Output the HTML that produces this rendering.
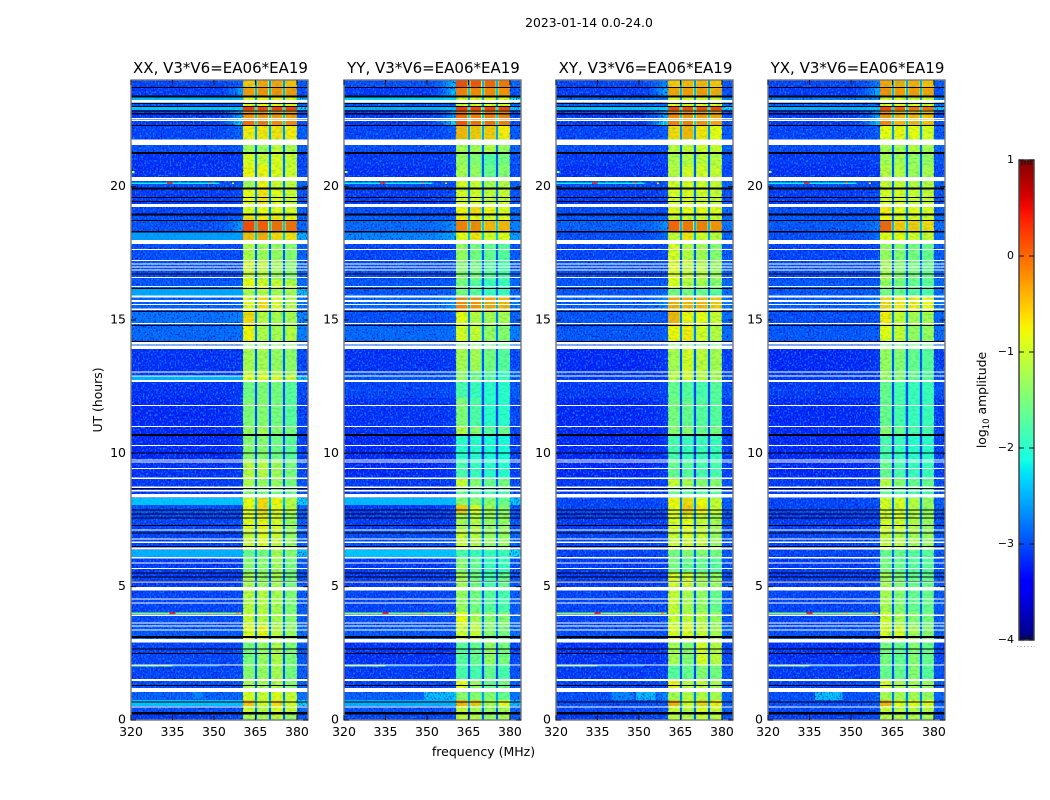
<!DOCTYPE html>
<html>
<head>
<meta charset="utf-8">
<title>2023-01-14 0.0-24.0</title>
<style>
html,body{margin:0;padding:0;background:#fff;}
svg{display:block;font-family:"DejaVu Sans","Liberation Sans",sans-serif;fill:#000;}
</style>
</head>
<body>
<svg id="figure" xmlns="http://www.w3.org/2000/svg" width="1050" height="800" viewBox="0 0 1050 800">
  <defs>
    <filter id="speckDark" x="0" y="0" width="1" height="1" color-interpolation-filters="sRGB">
      <feTurbulence type="fractalNoise" baseFrequency="0.62 0.5" numOctaves="1" seed="4"/>
      <feColorMatrix type="matrix" values="0 0 0 0 0  0 0 0 0 0.05  0 0 0 0 0.66  4 0 0 0 -2.1"/>
    </filter>
    <filter id="speckLight" x="0" y="0" width="1" height="1" color-interpolation-filters="sRGB">
      <feTurbulence type="fractalNoise" baseFrequency="0.6 0.48" numOctaves="1" seed="11"/>
      <feColorMatrix type="matrix" values="0 0 0 0 0.05  0 0 0 0 0.5  0 0 0 0 1  0 4.500 0 0 -2.3"/>
    </filter>
    <filter id="speckBand" x="0" y="0" width="1" height="1" color-interpolation-filters="sRGB">
      <feTurbulence type="fractalNoise" baseFrequency="0.25 0.5" numOctaves="1" seed="7"/>
      <feColorMatrix type="matrix" values="0 0 0 0 0.1  0 0 0 0 0.75  0 0 0 0 0.45  1 0 0 0 -0.42"/>
    </filter>
    <linearGradient id="jetGradient" x1="0" y1="1" x2="0" y2="0"></linearGradient>
  </defs>
  <rect x="0" y="0" width="1050" height="800" fill="#fff"/>
  <text x="589" y="27" font-size="12.4" text-anchor="middle">2023-01-14 0.0-24.0</text>
  <g id="panels"></g>
  <text x="0" y="0" font-size="12.4" text-anchor="middle" transform="translate(102,400) rotate(-90)">UT (hours)</text>
  <text x="483.500" y="756" font-size="12.500" text-anchor="middle">frequency (MHz)</text>
  <g id="colorbar"></g>
  <text font-size="12.4" text-anchor="middle" transform="translate(986,400) rotate(-90)">log<tspan font-size="8.500" dy="3">10</tspan><tspan dy="-3"> amplitude</tspan></text>
  <line x1="1017" y1="646.500" x2="1035" y2="646.500" stroke="#999" stroke-width="1" stroke-dasharray="1 2.500"/>
</svg>
<script>
// ---- chart data (hours, MHz, log10 amplitude) ----
const panelTitles = ["XX, V3*V6=EA06*EA19", "YY, V3*V6=EA06*EA19", "XY, V3*V6=EA06*EA19", "YX, V3*V6=EA06*EA19"];
const xTickLabels = [320, 335, 350, 365, 380];
const yTickLabels = [0, 5, 10, 15, 20];
const colorbarTicks = [1, 0, -1, -2, -3, -4];
const freqEdges = [320, 350, 360.5, 365.2, 370.2, 375.3, 380, 384];
const notchCenters = [365.2, 370.2, 375.3];
const rowEdgeHours = [24, 23.74, 23.40, 23.14, 22.99, 22.88, 22.58, 22.31, 21.79, 21.30, 20.81, 20.21, 19.91, 19.24, 18.90, 18.71, 18.34, 18.00, 17.25, 16.50, 16.16, 15.90, 15.30, 14.81, 14.21, 13.91, 13.09, 12.90, 12.68, 12.08, 11.03, 10.73, 9.75, 9.08, 8.74, 8.33, 8.06, 7.76, 7.13, 6.53, 6.38, 6.11, 5.55, 4.99, 4.05, 3.56, 3.00, 2.06, 1.50, 1.05, 0.75, 0.53, 0.19, 0];

// each row: [background, shoulder, subband1, subband2, subband3, subband4, gap]
const xxLevels = [
[-3.05,-2.9,-.6,-.4,-.4,-.55,-2.6],[-3.1,-2.5,-.35,-.3,-.3,-.35,-2.4],[-2.45,-2.3,-.95,-.85,-.85,-.9,-2.5],[-3,-2.9,-1,-.9,-.9,-.95,-2.6],
[-2.4,-1.9,.2,.15,.15,.15,-2.1],[-3.1,-2.4,-.3,-.3,-.35,-.35,-2.3],[-3.1,-2.1,-.1,-.15,-.25,-.25,-2.2],[-3.05,-2.8,-.8,-.75,-.75,-.8,-2.6],
[-3,-2.9,-1.35,-1.35,-1.15,-1.25,-2.8],[-3.15,-3.1,-1,-1.1,-1,-1.1,-2.8],[-3.15,-3.1,-.85,-.85,-.95,-1.05,-2.8],[-3,-3,-1.35,-.85,-1.05,-1.15,-2.7],
[-3.1,-3,-.9,-.75,-.95,-1.05,-2.7],[-3.05,-3,-1,-.9,-.95,-1,-2.7],[-3,-2.9,-.75,-.8,-.8,-.85,-2.6],[-3,-2.5,.1,0,-.1,-.1,-2.3],
[-2.6,-2.45,-.55,-.45,-.7,-.75,-2.3],[-3,-3,-1.25,-1.35,-1.4,-1.5,-2.9],[-3,-3,-1.05,-1.15,-1.35,-1.5,-2.9],[-2.95,-2.9,-.9,-1,-1.1,-1.2,-2.8],
[-2.55,-2.5,-1.3,-1.2,-1.3,-1.3,-2.6],[-2.9,-2.85,-.95,-.7,-1,-1.2,-2.6],[-2.8,-2.7,-.7,-1.2,-1.3,-1.3,-2.7],[-2.85,-2.8,-.85,-1.25,-1.3,-1.2,-2.8],
[-2.9,-2.9,-1.5,-1.4,-1.4,-1.5,-2.8],[-3.15,-3.1,-1.3,-1.3,-1.4,-1.45,-2.9],[-3.1,-3.1,-1.1,-1.1,-1.2,-1.3,-2.8],[-2.5,-2.5,-.95,-.95,-1,-1.1,-2.6],
[-3.15,-3.1,-1.65,-1.55,-1.6,-1.8,-3],[-3.2,-3.1,-1.55,-1.5,-1.6,-1.8,-3],[-3.2,-3.1,-1.4,-1.3,-1.5,-1.6,-3],[-3.2,-3.1,-1.5,-1.5,-1.65,-1.8,-3],
[-3.15,-3.1,-1.2,-1.2,-1.35,-1.6,-2.9],[-3.1,-3.05,-1.3,-1.4,-1.4,-1.6,-2.9],[-3.1,-3.05,-1.5,-1.6,-1.6,-1.7,-2.9],[-2.4,-2.35,-.9,-.7,-.85,-1.2,-2.4],
[-3,-3,-.9,-.7,-.9,-1.2,-2.6],[-3.05,-3,-.95,-.85,-1,-1.4,-2.8],[-3.05,-3,-1.1,-.95,-1.1,-1.4,-2.8],[-3,-3,-1.1,-1,-1.1,-1.4,-2.8],
[-2.5,-2.45,-1.7,-1.6,-1.3,-1.5,-2.6],[-3.1,-3.05,-1.5,-1.5,-1.35,-1.6,-2.9],[-3.1,-3.05,-1.3,-1.4,-1.3,-1.6,-2.9],[-3.05,-3,-1.2,-1.2,-1.3,-1.55,-2.9],
[-3,-3,-1.1,-1.2,-1.3,-1.5,-2.8],[-2.95,-2.95,-.95,-.85,-1.2,-1.4,-2.8],[-3.05,-3,-1.6,-1.4,-1.25,-1.55,-2.9],[-3.05,-3,-1.5,-1.4,-1.3,-1.6,-2.9],
[-3,-2.95,-1.3,-1.3,-1.2,-1.5,-2.8],[-2.9,-2.85,-1,-1.1,-.95,-1.1,-2.7],[-2.4,-2.4,-.6,-1,-.7,-1,-2.4],[-3,-3,-1.1,-1.2,-1,-1.1,-2.8],[-3.1,-3,-1.3,-1.3,-1.1,-1.4,-2.9]
];
const yyLevels = [
[-3,-2.3,.1,.05,-.05,-.15,-2.4],[-3.1,-2.3,-.2,-.25,-.25,-.3,-2.3],[-2.3,-2.2,-1,-.9,-.9,-.95,-2.4],[-3,-2.9,-1.1,-1.05,-1.05,-1.05,-2.6],
[-2.5,-1.9,.2,.15,.15,.15,-2.1],[-3.1,-2.5,-.1,-.2,-.2,-.2,-2.2],[-3.1,-2.1,.05,-.1,-.1,-.2,-2.2],[-3.05,-2.9,-.5,-.6,-.6,-.8,-2.5],
[-3,-3,-1.3,-1.3,-1.2,-1.4,-2.8],[-3.1,-3.05,-1.4,-1.5,-1.8,-1.6,-2.9],[-3.15,-3.1,-1.3,-1.4,-1.7,-1.5,-2.9],[-3,-3,-1,-1.1,-1.3,-1.2,-2.7],
[-3.1,-3,-1,-1,-1.15,-1.1,-2.8],[-3,-3,-.85,-.7,-.85,-1,-2.7],[-2.9,-2.9,-.8,-.9,-1,-1,-2.6],[-2.85,-2.6,-.2,-.25,-.5,-.5,-2.3],
[-2.7,-2.45,-.9,-.75,-1,-.95,-2.3],[-3.05,-3,-1.4,-1.6,-1.7,-1.8,-2.9],[-3,-3,-1.5,-1.6,-1.8,-1.9,-2.9],[-2.95,-2.9,-1.6,-1.8,-2,-2,-2.9],
[-2.95,-2.85,-1.6,-1.8,-2,-2,-2.8],[-2.85,-2.55,-.25,-.3,-.4,-.5,-2.4],[-3,-2.95,-.9,-1.2,-1.3,-1.3,-2.7],[-2.85,-2.8,-1,-1.1,-1.4,-1.5,-2.7],
[-2.9,-2.9,-1.5,-1.6,-1.7,-1.8,-2.8],[-3.15,-3.1,-1.3,-1.3,-1.6,-1.8,-2.9],[-3,-3,-1.5,-1.7,-1.8,-2,-2.9],[-2.95,-2.9,-1.4,-1.6,-1.8,-2,-2.8],
[-3.05,-3,-1.9,-2,-2.1,-2.1,-3],[-3.15,-3.1,-1.55,-1.85,-2.1,-2.1,-3],[-3.15,-3.1,-1.2,-1.5,-1.8,-1.7,-3],[-3.2,-3.1,-2.1,-2.1,-2.2,-2.2,-3.1],
[-3.2,-3.1,-1.9,-2,-2.1,-2.1,-3.1],[-3.1,-3.05,-1.1,-1.5,-1.7,-1.6,-2.9],[-3.1,-3.05,-1.7,-1.8,-1.9,-1.9,-2.9],[-2.45,-2.3,-1.5,-1.5,-1.5,-1.7,-2.5],
[-3.1,-3,-.6,-1,-1.3,-1.5,-2.7],[-3.1,-3.05,-1.3,-1.2,-1.4,-1.4,-2.8],[-3,-3,-1.1,-1.2,-1.4,-1.4,-2.8],[-3,-3,-1.1,-1.2,-1.4,-1.4,-2.8],
[-2.4,-2.35,-1.9,-2,-2,-2,-2.5],[-3.1,-3.05,-1.5,-1.7,-2,-2,-2.9],[-3.1,-3.05,-1.3,-1.6,-1.9,-1.7,-2.9],[-3.05,-3,-1.4,-1.6,-1.8,-1.9,-2.9],
[-3,-3,-.9,-1.3,-1.5,-1.5,-2.8],[-2.95,-2.95,-1.1,-1.1,-1.5,-1.6,-2.8],[-3.15,-3.1,-1.8,-1.7,-1.4,-1.6,-3],[-3.1,-3.05,-1.9,-1.9,-1.7,-1.9,-3],
[-3.05,-3,-.9,-1.4,-1.7,-1.6,-2.8],[-2.9,-2.2,-1.5,-1.5,-1.5,-1.7,-2.5],[-2.5,-2.3,-.5,-.6,-1.3,-.9,-2.4],[-3,-3,-1.1,-1.3,-1.4,-1.3,-2.8],[-3.05,-3,-1.1,-1.2,-1.4,-1.3,-2.9]
];
const xyLevels = [
[-3.05,-2.6,-.6,-.5,-.5,-.6,-2.6],[-3.1,-2.4,-.4,-.35,-.35,-.45,-2.4],[-2.8,-2.7,-1,-.95,-1,-1,-2.6],[-2.9,-2.8,-1,-1,-1,-1,-2.6],
[-2.4,-1.9,.15,.1,.1,.1,-2.1],[-3.1,-2.4,-.25,-.3,-.35,-.4,-2.3],[-3.1,-2,-.2,-.2,-.3,-.4,-2.2],[-3.05,-2.9,-.7,-.5,-.75,-.9,-2.6],
[-3,-3,-1.2,-1.1,-1.05,-1.1,-2.8],[-3.1,-3.05,-1.25,-1.2,-1.15,-1.2,-2.9],[-3.15,-3.1,-1.2,-1,-1,-1.1,-2.9],[-3,-3,-1,-1,-1.05,-1.1,-2.8],
[-3.1,-3,-1,-.95,-1,-1.1,-2.8],[-3,-3,-.9,-.9,-.9,-.95,-2.7],[-2.95,-2.9,-1.1,-1.1,-1.1,-1.1,-2.7],[-2.9,-2.6,-.05,-.15,-.2,-.3,-2.4],
[-3,-2.8,-1.1,-.75,-1.05,-1.15,-2.5],[-3.05,-3,-1,-1.2,-1.3,-1.5,-2.9],[-3,-3,-.95,-1.1,-1.2,-1.4,-2.9],[-2.95,-2.9,-1,-1.2,-1.3,-1.5,-2.8],
[-2.95,-2.85,-1.6,-1.6,-1.7,-1.8,-2.8],[-2.9,-2.6,-.45,-.5,-.5,-.6,-2.5],[-2.95,-2.95,-.5,-.85,-.9,-1.1,-2.7],[-2.95,-2.9,-.85,-.8,-1,-1.2,-2.7],
[-3,-3,-1.5,-1.5,-1.6,-1.6,-2.8],[-3.2,-3.1,-1.3,-1,-1.15,-1.3,-2.9],[-3.1,-3.1,-1.2,-1.05,-1.2,-1.3,-2.9],[-3.1,-3.1,-1.2,-1.05,-1.2,-1.3,-2.9],
[-3.1,-3.05,-1.7,-1.8,-1.9,-1.8,-3],[-3.2,-3.1,-1.6,-1.7,-1.8,-1.8,-3],[-3.2,-3.1,-1.5,-1.5,-1.7,-1.6,-3],[-3.2,-3.1,-1.9,-2,-2,-2,-3.1],
[-3.2,-3.1,-1.7,-1.8,-1.9,-1.9,-3.1],[-3.1,-3.05,-1.1,-1.3,-1.5,-1.5,-2.9],[-3.1,-3.05,-1.7,-1.8,-1.8,-1.8,-2.9],[-3.05,-3,-.85,-.7,-.9,-1.1,-2.7],
[-3.05,-3,-.9,-.6,-.8,-1.1,-2.7],[-3.1,-3.05,-1,-.9,-1.1,-1.3,-2.8],[-3.05,-3,-1.1,-1,-1.1,-1.4,-2.8],[-3.05,-3,-1.1,-1,-1.1,-1.4,-2.8],
[-3.05,-3,-1.6,-1.5,-1.5,-1.6,-2.8],[-3.1,-3.05,-1.6,-1.7,-1.7,-1.8,-2.9],[-3.1,-3.05,-1,-1,-1.3,-1.4,-2.9],[-3.05,-3,-1.1,-1.3,-1.4,-1.7,-2.9],
[-3.05,-3,-1.1,-1.1,-1.2,-1.4,-2.8],[-3,-3,-1,-.95,-1.1,-1.3,-2.8],[-3.15,-3.1,-1.3,-1.5,-1,-1.2,-3],[-3.1,-3.05,-1.8,-1.7,-1.5,-1.6,-3],
[-3.05,-3,-.85,-1.2,-1.1,-1.3,-2.8],[-3,-2.6,-1.3,-1.2,-1.2,-1.3,-2.7],[-3,-2.9,-.5,-1,-.7,-.8,-2.6],[-3.05,-3,-1.1,-1.2,-1,-1.1,-2.8],[-3.1,-3,-1.2,-1.2,-1.1,-1.2,-2.9]
];
const yxLevels = [
[-3.05,-2.7,-.4,-.45,-.45,-.55,-2.5],[-3.1,-2.4,-.3,-.35,-.35,-.4,-2.4],[-2.7,-2.6,-1,-.95,-1,-1,-2.5],[-2.9,-2.85,-1,-1,-1,-1.05,-2.6],
[-2.5,-2,.1,0,-.1,-.1,-2.2],[-3.1,-2.5,-.3,-.5,-.5,-.55,-2.3],[-3.1,-2.2,-.25,-.5,-.5,-.55,-2.3],[-3.05,-2.9,-.9,-.85,-.9,-1,-2.6],
[-3,-3,-1.3,-1.3,-1.2,-1.3,-2.8],[-3.1,-3.05,-1.3,-1.3,-1.4,-1.4,-2.9],[-3.15,-3.1,-1.2,-1.2,-1.35,-1.3,-2.9],[-3,-3,-1.1,-1.1,-1.2,-1.2,-2.8],
[-3.1,-3,-1,-1,-1.1,-1.1,-2.8],[-3,-3,-.8,-.9,-.95,-1,-2.7],[-2.95,-2.9,-.9,-1,-1,-1.05,-2.7],[-2.95,-2.7,-.05,-.6,-.6,-.7,-2.4],
[-3,-2.8,-.9,-.9,-1.05,-1.1,-2.5],[-3.05,-3,-1.4,-1.5,-1.6,-1.7,-2.9],[-3,-3,-1.3,-1.5,-1.6,-1.7,-2.9],[-2.95,-2.9,-1.4,-1.6,-1.7,-1.8,-2.8],
[-2.95,-2.9,-1.6,-1.7,-1.8,-1.9,-2.8],[-2.9,-2.7,-.7,-.8,-.8,-.9,-2.5],[-3,-2.95,-.8,-1.1,-1.3,-1.3,-2.7],[-2.95,-2.9,-.95,-1.1,-1.4,-1.4,-2.7],
[-3,-3,-1.6,-1.6,-1.7,-1.7,-2.8],[-3.2,-3.1,-1.4,-1.5,-1.7,-1.8,-2.9],[-3.1,-3.1,-1.4,-1.5,-1.7,-1.8,-2.9],[-3.1,-3.1,-1.4,-1.5,-1.7,-1.8,-2.9],
[-3.1,-3.05,-1.7,-1.9,-2,-2,-3],[-3.2,-3.1,-1.7,-1.9,-2,-2,-3],[-3.2,-3.1,-1.5,-1.7,-1.9,-1.9,-3],[-3.2,-3.1,-1.9,-2,-2.1,-2.1,-3.1],
[-3.2,-3.1,-1.7,-1.9,-2,-2,-3.1],[-3.1,-3.05,-1.2,-1.5,-1.7,-1.7,-2.9],[-3.1,-3.05,-1.7,-1.8,-1.9,-1.9,-2.9],[-3.05,-3,-1,-1,-1.2,-1.4,-2.8],
[-3.05,-3,-1,-.95,-1.2,-1.4,-2.8],[-3.1,-3.05,-1,-1,-1.2,-1.4,-2.8],[-3.05,-3,-1.1,-1.2,-1.3,-1.4,-2.8],[-3.05,-3,-1.1,-1.2,-1.3,-1.4,-2.8],
[-3.05,-3,-1.7,-1.7,-1.8,-1.8,-2.8],[-3.1,-3.05,-1.6,-1.7,-1.8,-1.8,-2.9],[-3.1,-3.05,-1.3,-1.5,-1.7,-1.7,-2.9],[-3.05,-3,-1.3,-1.5,-1.7,-1.7,-2.9],
[-3.05,-3,-1.1,-1.3,-1.5,-1.6,-2.8],[-3,-3,-1,-1,-1.3,-1.5,-2.8],[-3.15,-3.1,-1.6,-1.7,-1.5,-1.7,-3],[-3.1,-3.05,-1.7,-1.7,-1.5,-1.8,-3],
[-3.05,-3,-1,-1.3,-1.3,-1.4,-2.8],[-3,-2.9,-1.3,-1.3,-1.3,-1.4,-2.7],[-3,-2.9,-.5,-.9,-.9,-.9,-2.6],[-3.05,-3,-1.1,-1.2,-1.2,-1.2,-2.8],[-3.1,-3,-1.2,-1.2,-1.2,-1.3,-2.9]
];
const panelLevels = [xxLevels, yyLevels, xyLevels, yxLevels];

// flagged (blank) time ranges and near-zero time ranges: [upper hour, lower hour]
const flaggedHours = [[23.25,23.15],[22.58,22.54],[22.51,22.47],[21.76,21.57],[20.36,20.21],[19.35,19.24],[18.0,17.85],[17.66,17.63],[17.25,17.21],[17.12,17.08],[17.0,16.96],[16.89,16.85],[16.61,16.58],[16.28,16.24],[15.91,15.84],[15.75,15.68],[15.6,15.56],[15.43,15.38],[14.89,14.85],[14.18,14.09],[14.04,13.92],[13.07,13.03],[12.92,12.89],[12.75,12.68],[11.81,11.78],[11.03,10.99],[10.31,10.28],[9.77,9.73],[9.69,9.65],[9.45,9.41],[9.1,9.04],[8.75,8.7],[8.63,8.57],[8.48,8.34],[7.15,7.11],[6.81,6.76],[6.69,6.63],[6.46,6.39],[6.12,6.05],[5.9,5.86],[5.7,5.66],[5.19,5.15],[4.99,4.86],[4.56,4.53],[4.4,4.36],[3.96,3.9],[3.66,3.61],[3.54,3.5],[3.4,3.35],[3.03,2.9],[2.09,2.05],[1.53,1.46],[1.2,1.05],[0.5,0.46]];
const deadHours = [[23.74,23.7],[23.42,23.35],[23.14,23.1],[23.03,22.99],[22.86,22.82],[22.76,22.71],[22.31,22.28],[21.3,21.22],[19.96,19.9],[19.61,19.58],[19.47,19.44],[18.99,18.91],[18.75,18.71],[18.34,18.29],[16.75,16.71],[16.2,16.16],[15.34,15.3],[14.81,14.78],[14.21,14.19],[10.73,10.65],[10.03,9.99],[8.7,8.66],[7.9,7.87],[7.75,7.72],[7.6,7.57],[7.32,7.29],[7.03,6.99],[6.52,6.49],[5.54,5.51],[5.39,5.36],[5.22,5.19],[3.15,3.08],[2.69,2.66],[2.51,2.47],[1.31,1.28],[.69,.66],[.3,.2]];

// narrow interference: hour, start MHz, end MHz, level
const rfiHours = [20.13, 20.13, 20.13, 20.13, 20.55, 4.01, 4.01, 4.01, 4.01, 2.03, 2.03];
const rfiStarts = [320, 333, 348, 356.5, 320.3, 320, 334, 348, 358, 320, 335];
const rfiEnds = [352, 335, 349, 357.3, 321.2, 360, 336, 349, 359, 335, 352];
const rfiLevels = [-2.2, .3, -.3, -.6, -1, -1.5, .4, -.5, -.3, -1.4, -2.6];

// diffuse patches: panel, upper hour, lower hour, start MHz, end MHz, level
const patchPanels = [0, 1, 2, 2, 3];
const patchTops = [1.05, 1.05, 1.05, 1.05, 1.05];
const patchBottoms = [.8, .75, .75, .75, .75];
const patchStarts = [342, 349, 349, 340, 337];
const patchEnds = [346, 360, 356, 348, 347];
const patchLevels = [-2.7, -2.4, -2.4, -2.7, -2.4];

// ---- layout ----
const SVG_NS = "http://www.w3.org/2000/svg";
const plotLefts = [131, 344, 556, 768];
const plotTop = 80, plotBottom = 720, plotWidth = 177;
const fMin = 320, fMax = 384, hMin = 0, hMax = 24;
const bandStart = 360.5, bandEnd = 380, notchWidth = 0.75, fringeWidth = 1.15;
const bandDisplayLift = 0.1, shoulderSteps = 6, brightRowLimit = -2.7;

function make(parent, tag, attrs, text) {
  const el = document.createElementNS(SVG_NS, tag);
  for (const k in attrs) el.setAttribute(k, attrs[k]);
  if (text !== undefined) el.textContent = text;
  parent.appendChild(el);
  return el;
}
function interp(t, knots) {
  for (let i = 1; i < knots.length; i++) {
    if (t <= knots[i][0]) {
      const a = knots[i - 1], b = knots[i];
      return a[1] + (b[1] - a[1]) * (t - a[0]) / (b[0] - a[0]);
    }
  }
  return knots[knots.length - 1][1];
}
const redKnots = [[0,0],[.35,0],[.66,1],[.89,1],[1,.5]];
const greenKnots = [[0,0],[.125,0],[.375,1],[.64,1],[.91,0],[1,0]];
const blueKnots = [[0,.5],[.11,1],[.34,1],[.65,0],[1,0]];
function jet(t) {
  const c = Math.max(0, Math.min(1, t));
  return "rgb(" + Math.round(255 * interp(c, redKnots)) + "," + Math.round(255 * interp(c, greenKnots)) + "," + Math.round(255 * interp(c, blueKnots)) + ")";
}
function levelColor(v) { return jet((v + 4) / 5); }
function xScale(left, f) { return left + (f - fMin) / (fMax - fMin) * plotWidth; }
function yScale(h) { return plotBottom - (h - hMin) / (hMax - hMin) * (plotBottom - plotTop); }

function hBar(parent, left, f0, f1, h0, h1, fill) {
  const x0 = xScale(left, f0), x1 = xScale(left, f1);
  const y0 = yScale(h0), y1 = yScale(h1);
  return make(parent, "rect", {x: x0, y: y0, width: x1 - x0, height: Math.max(1, y1 - y0), fill: fill, "shape-rendering": "crispEdges"});
}

const panelsRoot = document.getElementById("panels");
panelTitles.forEach(function (title, p) {
  const left = plotLefts[p];
  const levels = panelLevels[p];
  const g = make(panelsRoot, "g", {});
  
  

  // base cells
  levels.forEach(function (row, r) {
    const h0 = rowEdgeHours[r], h1 = rowEdgeHours[r + 1];
    const bg = row[0], sh = row[1], gap = row[6];

    const bgCell = hBar(g, left, freqEdges[0], freqEdges[1], h0, h1, levelColor(bg));
    
    

    for (let s = 0; s < shoulderSteps; s++) {
      const fr = (s + 0.5) / shoulderSteps;
      const f0 = freqEdges[1] + (freqEdges[2] - freqEdges[1]) * s / shoulderSteps;
      const f1 = freqEdges[1] + (freqEdges[2] - freqEdges[1]) * (s + 1) / shoulderSteps;
      const shCell = hBar(g, left, f0, f1, h0, h1, levelColor(bg + (sh - bg) * fr * fr));
      
      
    }

    for (let b = 0; b < 4; b++) {
      const bandCell = hBar(g, left, freqEdges[2 + b], freqEdges[3 + b], h0, h1, levelColor(row[2 + b] + bandDisplayLift));
      
      
    }

    const edgeCell = hBar(g, left, freqEdges[6], freqEdges[7], h0, h1, levelColor(bg + 0.12));
    
    

    notchCenters.forEach(function (n, k) {
      const mean = (gap + row[2 + k] + row[3 + k]) / 3;
      const fringe = hBar(g, left, n - fringeWidth / 2, n + fringeWidth / 2, h0, h1, levelColor(mean));
      
      
      const notch = hBar(g, left, n - notchWidth / 2, n + notchWidth / 2, h0, h1, levelColor(gap - 0.1));
      
      
    });
  });

  // diffuse patches
  patchPanels.forEach(function (pp, i) {
    if (pp !== p) return;
    const patch = hBar(g, left, patchStarts[i], patchEnds[i], patchTops[i], patchBottoms[i], levelColor(patchLevels[i]));
    
    
  });

  // speckle texture
  [[fMin, bandStart], [bandEnd, fMax]].forEach(function (range) {
    const x0 = xScale(left, range[0]), x1 = xScale(left, range[1]);
    const dark = make(g, "rect", {x: x0, y: plotTop, width: x1 - x0, height: plotBottom - plotTop, filter: "url(#speckDark)"});
    
    
    const light = make(g, "rect", {x: x0, y: plotTop, width: x1 - x0, height: plotBottom - plotTop, filter: "url(#speckLight)"});
    
    
  });
  const bx0 = xScale(left, bandStart), bx1 = xScale(left, bandEnd);
  const bandTex = make(g, "rect", {x: bx0, y: plotTop, width: bx1 - bx0, height: plotBottom - plotTop, filter: "url(#speckBand)"});
  
  

  // bright background strips are smoother than the quiet sky: lay them back over the speckle
  levels.forEach(function (row, r) {
    if (row[0] <= brightRowLimit) return;
    const wash = hBar(g, left, fMin, bandStart, rowEdgeHours[r], rowEdgeHours[r + 1], levelColor(row[0]));
    wash.setAttribute('fill-opacity', '0.8');
    
    
  });

  // interference
  rfiHours.forEach(function (h, i) {
    const line = hBar(g, left, rfiStarts[i], rfiEnds[i], h + .03, h - .03, levelColor(rfiLevels[i]));
    
    
  });

  // near-zero rows
  deadHours.forEach(function (d) {
    const line = hBar(g, left, fMin, fMax, d[0], d[1], "#00000a");
    
    
  });

  // flagged rows
  flaggedHours.forEach(function (d) {
    const line = hBar(g, left, fMin, fMax, d[0], d[1], "#ffffff");
    
    
  });

  // frame
  const frame = make(g, "rect", {x: left, y: plotTop, width: plotWidth, height: plotBottom - plotTop, fill: "none", stroke: "#777", "stroke-width": 1.4});
  
  

  // title
  const t = make(g, "text", {x: left + plotWidth / 2 + 1, y: plotTop - 7, "font-size": 15, "text-anchor": "middle", fill: "#000"}, title);
  
  

  // x ticks
  xTickLabels.forEach(function (f) {
    const x = xScale(left, f);
    const tb = make(g, "line", {x1: x, x2: x, y1: plotBottom, y2: plotBottom - 5, stroke: "#111", "stroke-width": 1});
    
    
    const tt = make(g, "line", {x1: x, x2: x, y1: plotTop, y2: plotTop + 5, stroke: "#111", "stroke-width": 1});
    
    
    const lab = make(g, "text", {x: x, y: plotBottom + 16, "font-size": 12.5, "text-anchor": "middle", fill: "#000"}, String(f));
    
    
  });

  // y ticks
  yTickLabels.forEach(function (h) {
    const y = yScale(h);
    const tl = make(g, "line", {x1: left, x2: left + 5, y1: y, y2: y, stroke: "#111", "stroke-width": 1});
    
    
    const tr = make(g, "line", {x1: left + plotWidth - 5, x2: left + plotWidth, y1: y, y2: y, stroke: "#111", "stroke-width": 1});
    
    
    const lab = make(g, "text", {x: left - 5, y: y + 3.5, "font-size": 12.5, "text-anchor": "end", fill: "#000"}, String(h));
    
    
  });
});

// ---- colorbar ----
const cbLeft = 1019, cbRight = 1034, cbTop = 160, cbBottom = 640, cbMin = -4, cbMax = 1;
function cbY(v) { return cbBottom - (v - cbMin) / (cbMax - cbMin) * (cbBottom - cbTop); }
const grad = document.getElementById("jetGradient");
for (let i = 0; i <= 40; i++) {
  const stop = document.createElementNS(SVG_NS, "stop");
  stop.setAttribute("offset", i / 40);
  stop.setAttribute("stop-color", jet(i / 40));
  grad.appendChild(stop);
}
const cb = document.getElementById("colorbar");
const ramp = make(cb, "rect", {x: cbLeft, y: cbTop, width: cbRight - cbLeft, height: cbBottom - cbTop, fill: "url(#jetGradient)", stroke: "#444", "stroke-width": 1.5});


colorbarTicks.forEach(function (v) {
  const y = cbY(v);
  const a = make(cb, "line", {x1: cbLeft, x2: cbLeft + 5, y1: y, y2: y, stroke: "#111", "stroke-width": 1});
  
  
  const b = make(cb, "line", {x1: cbRight - 5, x2: cbRight, y1: y, y2: y, stroke: "#111", "stroke-width": 1});
  
  
  const lab = make(cb, "text", {x: 1014, y: y + 3, "font-size": 11, "text-anchor": "end", fill: "#000"}, v < 0 ? "\u2212" + Math.abs(v) : String(v));
  
  
});
[cbTop, cbBottom - 5].forEach(function (y0) {
  for (let i = 1; i <= 4; i++) {
    const x = cbLeft + i * (cbRight - cbLeft) / 5;
    const m = make(cb, "line", {x1: x, x2: x, y1: y0, y2: y0 + 5, stroke: "#111", "stroke-width": 1});
    
    
  }
});
</script>
</body>
</html>
